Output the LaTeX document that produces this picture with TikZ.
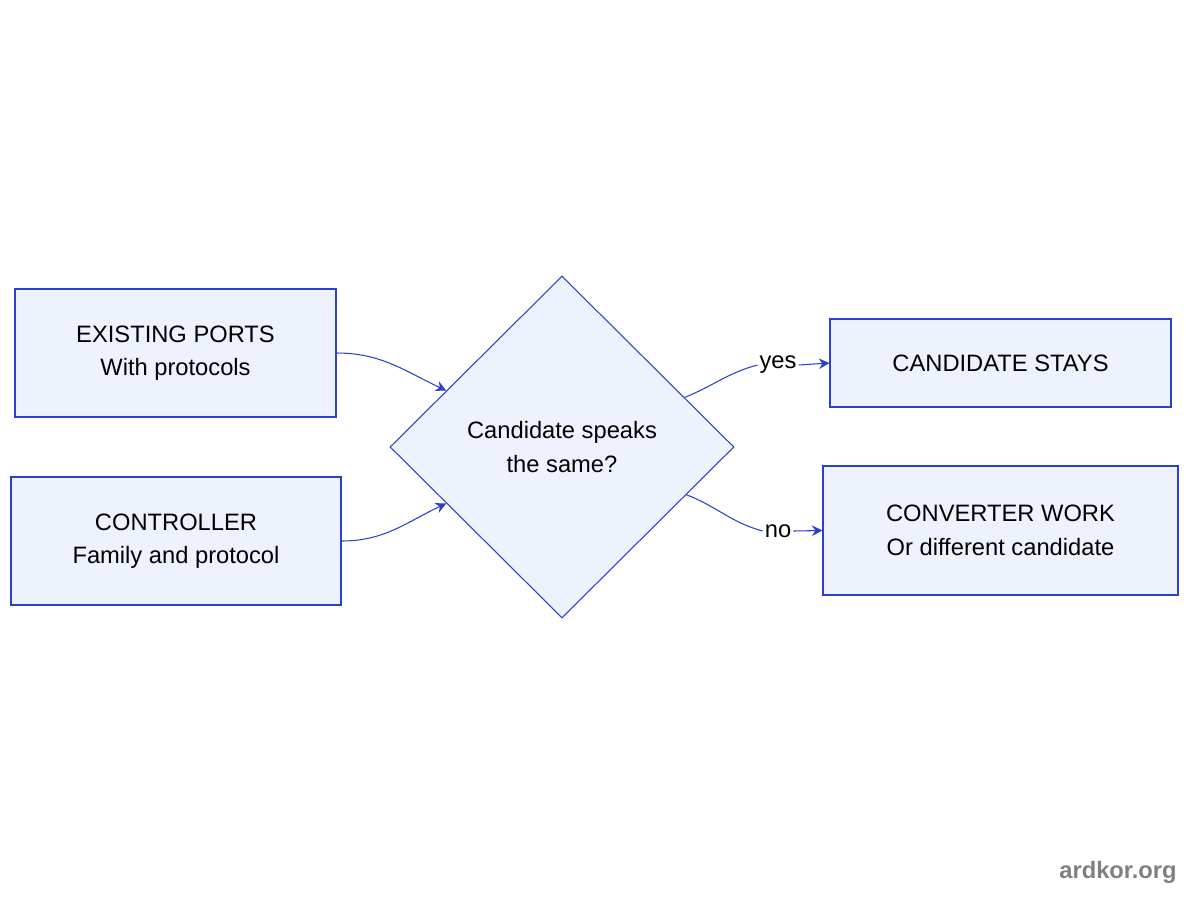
\documentclass[tikz,border=0pt]{standalone}
\usepackage{fontspec}
\setmainfont{Liberation Sans}
\usetikzlibrary{arrows.meta}
\usetikzlibrary{shapes.geometric}
\definecolor{boxfill}{HTML}{EEF2FD}
\definecolor{boxline}{HTML}{2B3FD0}
\tikzset{
	box/.style={draw=boxline, fill=boxfill, line width=0.6pt, align=center, font=\fontsize{13.5}{19}\selectfont, inner sep=0pt},
	link/.style={draw=boxline, line width=0.6pt, -{Stealth[length=6pt,width=6pt]}},
	plain/.style={draw=boxline, line width=0.6pt},
	lbl/.style={font=\fontsize{13.5}{16}\selectfont, inner sep=1pt}
}
\begin{document}
\begin{tikzpicture}[x=0.02cm,y=-0.02cm]
	\useasboundingbox (0,0) rectangle (1200,900);

	%Nodes
	\node[box, minimum width=321*0.02cm, minimum height=128*0.02cm] (ports) at (175.5,353) {EXISTING PORTS\\With protocols};
	\node[box, minimum width=330*0.02cm, minimum height=128*0.02cm] (ctrl) at (176,541) {CONTROLLER\\Family and protocol};
	\node[box, diamond, minimum width=344*0.02cm, minimum height=342*0.02cm] (same) at (562,447) {Candidate speaks\\the same?};
	\node[box, minimum width=341*0.02cm, minimum height=88*0.02cm] (stays) at (1000.5,363) {CANDIDATE STAYS};
	\node[box, minimum width=355*0.02cm, minimum height=129*0.02cm] (conv) at (1000.5,530.5) {CONVERTER WORK\\Or different candidate};

	%Labels
	\node[lbl] (yes) at (778,365) {yes};
	\node[lbl] (no) at (778,531) {no};

	%Connectors
	\draw[link] (ports.east) to[out=0,in=155] (same.154);
	\draw[link] (ctrl.east) to[out=0,in=205] (same.206);
	\draw[plain] (same.22) to[out=22,in=195] (yes.west);
	\draw[link] (yes.east) -- (stays.west);
	\draw[plain] (same.-21) to[out=-21,in=165] (no.west);
	\draw[link] (no.east) -- (conv.west);

	\node[font=\bfseries\fontsize{13.5}{16}\selectfont, text=gray] (mark) at (1118,872) {ardkor.org};
\end{tikzpicture}
\end{document}
